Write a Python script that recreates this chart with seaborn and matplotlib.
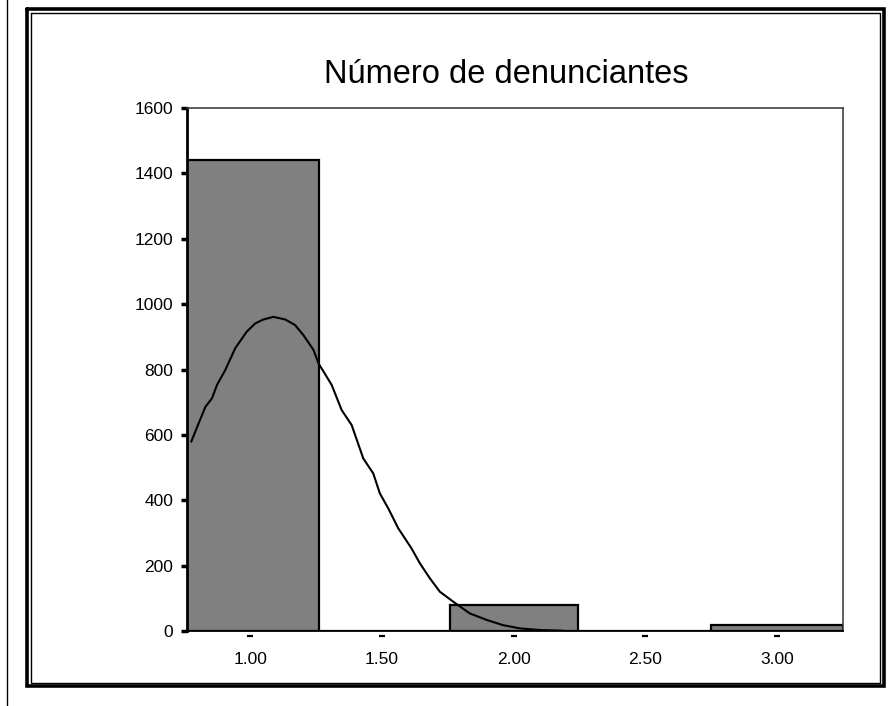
import matplotlib
matplotlib.use("Agg")
import matplotlib.pyplot as plt
import seaborn as sns
from matplotlib.lines import Line2D
from matplotlib.transforms import offset_copy

# ---- data ----
values = [1, 2, 3]
counts = [1441, 80, 18]
bin_edges = [0.755, 1.26, 1.76, 2.245, 2.75, 3.25]
xtick_vals = [1.0, 1.5, 2.0, 2.5, 3.0]
xtick_labels = ["1.00", "1.50", "2.00", "2.50", "3.00"]
ytick_vals = [0, 200, 400, 600, 800, 1000, 1200, 1400, 1600]
title = "Número de denunciantes"

# normal curve
curve_x = [0.776, 0.804, 0.830, 0.855, 0.874, 0.905, 0.943, 0.987, 1.019, 1.050,
           1.088, 1.133, 1.170, 1.202, 1.240, 1.259, 1.309, 1.347, 1.385, 1.429,
           1.467, 1.492, 1.524, 1.562, 1.612, 1.644, 1.682, 1.720, 1.770, 1.833,
           1.897, 1.959, 2.023, 2.100, 2.187]
curve_y = [579, 635, 686, 712, 753, 798, 865, 916, 941, 953,
           961, 953, 936, 905, 860, 819, 753, 676, 630, 528,
           482, 421, 375, 314, 253, 207, 161, 120, 90, 54,
           34, 18, 8, 3, 1]

sns.set_style("white")
plt.rcParams["font.family"] = ["Liberation Sans", "DejaVu Sans"]
plt.rcParams["text.color"] = "black"

W, H = 892, 706
fig = plt.figure(figsize=(W / 100, H / 100), dpi=100)
ax = fig.add_axes([187 / W, 1 - 631 / H, (843 - 187) / W, (631 - 108) / H])

sns.histplot(x=values, weights=counts, bins=bin_edges, ax=ax,
             color="#808080", edgecolor="black", linewidth=1.6, alpha=1.0)
sns.lineplot(x=curve_x, y=curve_y, ax=ax, color="black", linewidth=1.5)

ax.set_xlim(0.76, 3.25)
ax.set_ylim(0, 1600)
ax.set_xlabel("")
ax.set_ylabel("")
ax.set_xticks(xtick_vals)
ax.set_xticklabels(xtick_labels)
ax.set_yticks(ytick_vals)
ax.set_yticklabels([str(v) for v in ytick_vals])
ax.tick_params(axis="x", bottom=False, length=0, pad=15, labelsize=12.5,
               colors="black")
ax.tick_params(axis="y", left=True, length=4, width=2.5, pad=6, labelsize=12.5,
               colors="black", direction="out")

ax.spines["left"].set_color("black")
ax.spines["left"].set_linewidth(2.0)
ax.spines["bottom"].set_color("black")
ax.spines["bottom"].set_linewidth(1.3)
ax.spines["top"].set_color("#333333")
ax.spines["top"].set_linewidth(1.1)
ax.spines["right"].set_color("#333333")
ax.spines["right"].set_linewidth(1.1)
for s in ax.spines.values():
    s.set_visible(True)

# small dash tick marks below x-axis
ax.plot(xtick_vals, [0] * len(xtick_vals), ls="none", marker="_", ms=5, mew=1.6,
        color="black", clip_on=False,
        transform=offset_copy(ax.transData, fig=fig, y=-5, units="dots"))

fig.text(506 / W, 1 - 83 / H, title, ha="center", va="baseline",
         fontsize=23.5, color="black")

def fx(x):
    return x / W

def fy(y):
    return 1 - y / H

def rect(x0, y0, x1, y1, lw):
    xs = [fx(x0), fx(x1), fx(x1), fx(x0), fx(x0)]
    ys = [fy(y0), fy(y0), fy(y1), fy(y1), fy(y0)]
    fig.add_artist(Line2D(xs, ys, transform=fig.transFigure, color="black",
                          linewidth=lw, solid_joinstyle="miter"))

rect(26.5, 9, 883.5, 685.5, 2.6)
rect(30.5, 12.5, 879.5, 682.5, 1.0)
fig.add_artist(Line2D([fx(7), fx(7)], [0, 1], transform=fig.transFigure,
                      color="black", linewidth=1.0))

fig.savefig("out.png", dpi=100, facecolor="white")
